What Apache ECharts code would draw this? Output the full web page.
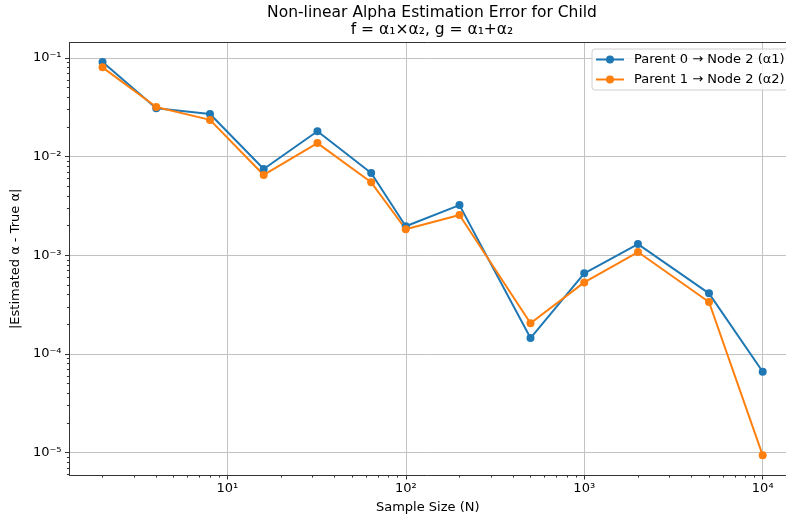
<!DOCTYPE html>
<html>
<head>
<meta charset="utf-8">
<script src="https://cdn.jsdelivr.net/npm/echarts@6/dist/echarts.min.js"></script>
<style>
  html, body { margin: 0; padding: 0; background: #fff; }
  #chart { width: 786px; height: 519px; }
</style>
</head>
<body>
<div id="chart"></div>
<script>
// sample sizes and absolute errors
const sampleSizes = [2, 4, 8, 16, 32, 64, 100, 200, 500, 1000, 2000, 5000, 10000];
const errAlpha1 = [0.0911, 0.0310, 0.0271, 0.0075, 0.0181, 0.00684, 0.00197, 0.00323, 0.000145, 0.000657, 0.0013, 0.000412, 0.0000662];
const errAlpha2 = [0.0805, 0.0319, 0.0236, 0.00653, 0.01374, 0.0055, 0.00184, 0.00256, 0.000205, 0.000532, 0.00108, 0.000337, 0.0000094];
const seriesNames = ['Parent 0 → Node 2 (α1)', 'Parent 1 → Node 2 (α2)'];
const xMajorTicks = [10, 100, 1000, 10000];
const yMajorTicks = [1e-5, 1e-4, 1e-3, 1e-2, 1e-1];

// the plot is clipped at the right edge of the image
const xMin = 1.306, xMax = 13505;
const yMin = 5.94e-6, yMax = 0.143;

// minor ticks 2..9 x 10^k inside the range
function minorTicks(lo, hi, kFrom, kTo) {
  const out = [];
  for (let k = kFrom; k <= kTo; k++) {
    for (let m = 2; m <= 9; m++) {
      const v = m * Math.pow(10, k);
      if (v > lo && v < hi) out.push(v);
    }
  }
  return out;
}
const xMinorTicks = minorTicks(xMin, xMax, 0, 4);
const yMinorTicks = minorTicks(yMin, yMax, -6, -1);

const sup = { '-': '⁻', '0': '⁰', '1': '¹', '2': '²', '3': '³', '4': '⁴', '5': '⁵', '6': '⁶', '7': '⁷', '8': '⁸', '9': '⁹' };
function powLabel(v) {
  const e = String(Math.round(Math.log10(v)));
  return '10' + e.split('').map(c => sup[c]).join('');
}

const font = 'DejaVu Sans';
const axisColor = '#333';
const gridColor = '#c2c2c2';

function toPairs(ys) {
  return sampleSizes.map((x, i) => [x, ys[i]]);
}

const chart = echarts.init(document.getElementById('chart'));
chart.setOption({
  animation: false,
  backgroundColor: '#fff',
  title: {
    text: 'Non-linear Alpha Estimation Error for Child\nf = α₁×α₂, g = α₁+α₂',
    left: 432,
    top: 4,
    padding: 0,
    textAlign: 'center',
    textStyle: { fontFamily: font, fontSize: 15.5, fontWeight: 'normal', color: '#000', lineHeight: 17 }
  },
  legend: {
    orient: 'vertical',
    left: 592,
    top: 49,
    padding: [4, 10, 4, 3],
    itemGap: 7,
    itemWidth: 28,
    itemHeight: 10,
    backgroundColor: 'rgba(255,255,255,0.8)',
    borderColor: '#d0d0d0',
    borderWidth: 1,
    borderRadius: 3,
    textStyle: { fontFamily: font, fontSize: 13, color: '#000', padding: [0, 0, 0, 5] },
    data: seriesNames
  },
  grid: { left: 69.5, right: 0, top: 42.7, bottom: 44 },
  xAxis: [
    {
      type: 'log', min: xMin, max: xMax,
      name: 'Sample Size (N)', nameLocation: 'middle', nameGap: 26,
      nameTextStyle: { fontFamily: font, fontSize: 13, color: '#000' },
      axisLine: { show: true, lineStyle: { color: axisColor, width: 1 } },
      axisTick: { show: true, length: 4.5, lineStyle: { color: axisColor }, customValues: xMajorTicks },
      axisLabel: { customValues: xMajorTicks, formatter: powLabel, margin: 7, fontFamily: font, fontSize: 13, color: '#000' },
      splitLine: { show: true, lineStyle: { color: gridColor, width: 1 } }
    },
    {
      type: 'log', min: xMin, max: xMax, position: 'bottom',
      axisLine: { show: false },
      axisTick: { show: true, length: 2.6, lineStyle: { color: axisColor }, customValues: xMinorTicks },
      axisLabel: { show: false },
      splitLine: { show: false }
    },
    {
      type: 'log', min: xMin, max: xMax, position: 'top',
      axisLine: { show: true, lineStyle: { color: axisColor, width: 1 } },
      axisTick: { show: false },
      axisLabel: { show: false },
      splitLine: { show: false }
    }
  ],
  yAxis: [
    {
      type: 'log', min: yMin, max: yMax,
      name: '|Estimated α - True α|', nameLocation: 'middle', nameGap: 43,
      nameTextStyle: { fontFamily: font, fontSize: 13, color: '#000' },
      axisLine: { show: true, lineStyle: { color: axisColor, width: 1 } },
      axisTick: { show: true, length: 4.5, lineStyle: { color: axisColor }, customValues: yMajorTicks },
      axisLabel: { customValues: yMajorTicks, formatter: powLabel, margin: 8, fontFamily: font, fontSize: 13, color: '#000' },
      splitLine: { show: true, lineStyle: { color: gridColor, width: 1 } }
    },
    {
      type: 'log', min: yMin, max: yMax, position: 'left',
      axisLine: { show: false },
      axisTick: { show: true, length: 2.6, lineStyle: { color: axisColor }, customValues: yMinorTicks },
      axisLabel: { show: false },
      splitLine: { show: false }
    }
  ],
  series: [
    {
      name: seriesNames[0], type: 'line', xAxisIndex: 0, yAxisIndex: 0,
      data: toPairs(errAlpha1),
      symbol: 'circle', symbolSize: 8,
      itemStyle: { color: '#1f77b4' },
      lineStyle: { color: '#1f77b4', width: 2 },
      emphasis: { disabled: true }
    },
    {
      name: seriesNames[1], type: 'line', xAxisIndex: 0, yAxisIndex: 0,
      data: toPairs(errAlpha2),
      symbol: 'circle', symbolSize: 8,
      itemStyle: { color: '#ff7f0e' },
      lineStyle: { color: '#ff7f0e', width: 2 },
      emphasis: { disabled: true }
    }
  ]
});
</script>
</body>
</html>
